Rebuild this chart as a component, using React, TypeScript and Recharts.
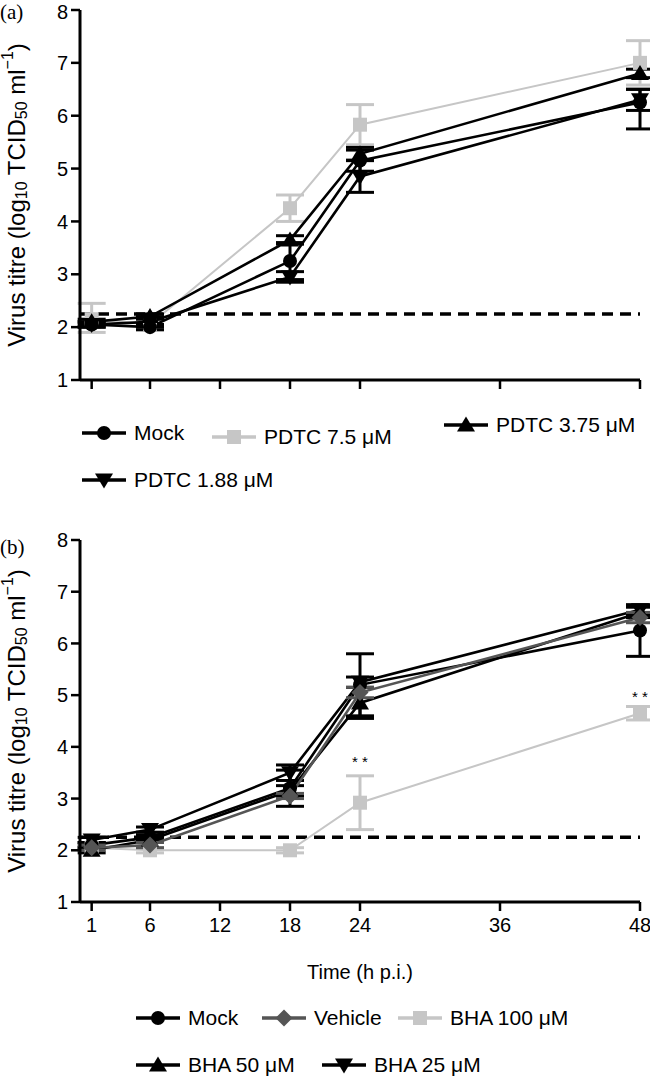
import React from 'react';
import { LineChart, Line, XAxis, YAxis, ErrorBar, ReferenceLine, ReferenceDot } from 'recharts';

const FONT = '"Liberation Sans", Arial, Helvetica, sans-serif';
const BLACK = '#000000';
const LIGHT = '#c6c6c6';
const DARK = '#555555';

const hours = [1, 6, 18, 24, 48];
const xTicks = [0, 1, 6, 12, 18, 24, 36, 48];
const yTicks = [1, 2, 3, 4, 5, 6, 7, 8];
const detectionLimit = 2.25;

// (a) PDTC
const aMock = [2.05, 2.0, 3.25, 5.15, 6.25];
const aMockErr = [0.05, 0.05, 0.35, 0.2, [0.5, 0.25]];
const aPdtc75 = [2.15, 2.05, 4.25, 5.83, 7.0];
const aPdtc75Err = [[0.25, 0.3], 0.1, 0.25, 0.38, 0.42];
const aPdtc375 = [2.1, 2.2, 3.65, 5.28, 6.8];
const aPdtc375Err = [0.05, 0.05, 0.08, 0.12, 0.08];
const aPdtc188 = [2.05, 2.1, 2.95, 4.85, 6.3];
const aPdtc188Err = [0.05, 0.1, 0.1, 0.3, 0.2];

// (b) BHA
const bMock = [2.1, 2.25, 3.2, 5.2, 6.25];
const bMockErr = [0.05, 0.05, 0.35, 0.6, [0.5, 0.3]];
const bVehicle = [2.05, 2.1, 3.05, 5.05, 6.5];
const bVehicleErr = [0.05, 0.05, 0.05, 0.1, 0.1];
const bBha100 = [2.05, 2.0, 2.0, 2.92, 4.65];
const bBha100Err = [0.05, 0.05, 0.05, 0.52, 0.13];
const bBha50 = [2.0, 2.2, 3.15, 4.85, 6.6];
const bBha50Err = [0.05, 0.05, 0.1, 0.3, 0.1];
const bBha25 = [2.2, 2.4, 3.5, 5.25, 6.65];
const bBha25Err = [0.05, 0.05, 0.15, 0.1, 0.1];

const sigHours = [24, 48];
const sigLevels = [3.72, 4.98];

const dataA = hours.map((t, i) => ({
  t,
  mock: aMock[i], mockErr: aMockErr[i],
  p75: aPdtc75[i], p75Err: aPdtc75Err[i],
  p375: aPdtc375[i], p375Err: aPdtc375Err[i],
  p188: aPdtc188[i], p188Err: aPdtc188Err[i],
}));

const dataB = hours.map((t, i) => ({
  t,
  mock: bMock[i], mockErr: bMockErr[i],
  veh: bVehicle[i], vehErr: bVehicleErr[i],
  b100: bBha100[i], b100Err: bBha100Err[i],
  b50: bBha50[i], b50Err: bBha50Err[i],
  b25: bBha25[i], b25Err: bBha25Err[i],
}));

type Shape = 'circle' | 'square' | 'up' | 'down' | 'diamond';

const seriesA = [
  { key: 'p75', name: 'PDTC 7.5 μM', color: LIGHT, shape: 'square' as Shape, width: 2 },
  { key: 'mock', name: 'Mock', color: BLACK, shape: 'circle' as Shape, width: 2.6 },
  { key: 'p375', name: 'PDTC 3.75 μM', color: BLACK, shape: 'up' as Shape, width: 2.6 },
  { key: 'p188', name: 'PDTC 1.88 μM', color: BLACK, shape: 'down' as Shape, width: 2.6 },
];

const seriesB = [
  { key: 'b100', name: 'BHA 100 μM', color: LIGHT, shape: 'square' as Shape, width: 2 },
  { key: 'mock', name: 'Mock', color: BLACK, shape: 'circle' as Shape, width: 2.6 },
  { key: 'b50', name: 'BHA 50 μM', color: BLACK, shape: 'up' as Shape, width: 2.6 },
  { key: 'b25', name: 'BHA 25 μM', color: BLACK, shape: 'down' as Shape, width: 2.6 },
  { key: 'veh', name: 'Vehicle', color: DARK, shape: 'diamond' as Shape, width: 2.6 },
];

function Marker({ cx, cy, shape, color }: { cx: number; cy: number; shape: Shape; color: string }) {
  if (cx == null || cy == null) return <g />;
  switch (shape) {
    case 'circle':
      return <circle cx={cx} cy={cy} r={7} fill={color} />;
    case 'square':
      return <rect x={cx - 7} y={cy - 7} width={14} height={14} fill={color} />;
    case 'up':
      return <polygon points={`${cx},${cy - 8.5} ${cx + 9},${cy + 6.5} ${cx - 9},${cy + 6.5}`} fill={color} />;
    case 'down':
      return <polygon points={`${cx},${cy + 8.5} ${cx + 9},${cy - 6.5} ${cx - 9},${cy - 6.5}`} fill={color} />;
    default:
      return <polygon points={`${cx},${cy - 8.5} ${cx + 8.5},${cy} ${cx},${cy + 8.5} ${cx - 8.5},${cy}`} fill={color} />;
  }
}

function YTitle({ viewBox }: any) {
  const cx = 16;
  const cy = viewBox.y + viewBox.height / 2;
  return (
    <text
      transform={`rotate(-90 ${cx} ${cy})`}
      x={cx}
      y={cy}
      textAnchor="middle"
      dominantBaseline="central"
      fontSize={24}
      fontFamily={FONT}
      fill="#000"
    >
      Virus titre (log<tspan dy={5} fontSize={16}>10</tspan>
      <tspan dy={-5}> TCID</tspan>
      <tspan dy={5} fontSize={16}>50</tspan>
      <tspan dy={-5}> ml</tspan>
      <tspan dy={-9} fontSize={16}>−1</tspan>
      <tspan dy={9}>)</tspan>
    </text>
  );
}

function XTick({ x, y, payload, show }: any) {
  if (!show || payload.value === 0) return <g />;
  return (
    <text x={x} y={y + 19} textAnchor="middle" fontSize={20} fontFamily={FONT} fill="#000">
      {payload.value}
    </text>
  );
}

function Panel({ data, series, height, marginTop, xHeight, showX, sig }: any) {
  return (
    <LineChart width={650} height={height} data={data} margin={{ top: marginTop, right: 10, left: 0, bottom: 0 }}>
      <XAxis
        dataKey="t"
        type="number"
        domain={[0, 48]}
        ticks={xTicks}
        height={xHeight}
        stroke="#000"
        strokeWidth={3}
        tickSize={9}
        tickLine={{ stroke: '#000', strokeWidth: 2.5 }}
        tick={(p: any) => <XTick {...p} show={showX} />}
        label={
          showX
            ? { value: 'Time (h p.i.)', position: 'insideBottom', offset: 8, fontSize: 20, fontFamily: FONT, fill: '#000' }
            : undefined
        }
      />
      <YAxis
        type="number"
        domain={[1, 8]}
        ticks={yTicks}
        width={80}
        stroke="#000"
        strokeWidth={3}
        tickSize={9}
        tickMargin={3}
        tickLine={{ stroke: '#000', strokeWidth: 2.5 }}
        tick={{ fontSize: 20, fontFamily: FONT, fill: '#000' }}
        label={{ content: (p: any) => <YTitle {...p} /> }}
      />
      <ReferenceLine y={detectionLimit} stroke="#000" strokeWidth={3.5} strokeDasharray="11 7" />
      {series.map((s: any) => (
        <Line
          key={s.key}
          dataKey={s.key}
          stroke={s.color}
          strokeWidth={s.width}
          isAnimationActive={false}
          dot={(p: any) => <Marker key={`${s.key}-${p.index}`} cx={p.cx} cy={p.cy} shape={s.shape} color={s.color} />}
          activeDot={false}
        >
          <ErrorBar dataKey={`${s.key}Err`} direction="y" width={14} strokeWidth={3} stroke={s.color} />
        </Line>
      ))}
      {sig &&
        sigHours.map((t, i) => (
          <ReferenceDot
            key={t}
            x={t}
            y={sigLevels[i]}
            r={0}
            stroke="none"
            label={{ value: '* *', position: 'center', fontSize: 15, fontFamily: FONT, fill: '#000' }}
          />
        ))}
    </LineChart>
  );
}

function LegendItem({ left, top, shape, color, label }: { left: number; top: number; shape: Shape; color: string; label: string }) {
  return (
    <div style={{ position: 'absolute', left, top, display: 'flex', alignItems: 'center', height: 24 }}>
      <svg width={44} height={24}>
        <line x1={0} x2={44} y1={12} y2={12} stroke={color} strokeWidth={3.5} />
        <Marker cx={22} cy={12} shape={shape} color={color} />
      </svg>
      <span style={{ marginLeft: 8, fontSize: 21, fontFamily: FONT, color: '#000', whiteSpace: 'nowrap' }}>{label}</span>
    </div>
  );
}

export default function App() {
  return (
    <div style={{ position: 'absolute', left: 0, top: 0, width: 650, height: 1087, background: '#fff', overflow: 'hidden' }}>
      <div style={{ position: 'absolute', left: 0, top: 0 }}>
        <Panel data={dataA} series={seriesA} height={400} marginTop={10} xHeight={20} showX={false} sig={false} />
      </div>
      <div style={{ position: 'absolute', left: 0, top: 520 }}>
        <Panel data={dataB} series={seriesB} height={467} marginTop={20} xHeight={85} showX={true} sig={true} />
      </div>
      <div style={{ position: 'absolute', left: 0, top: 0, fontSize: 21, fontFamily: '"Liberation Serif", serif' }}>(a)</div>
      <div style={{ position: 'absolute', left: 0, top: 535, fontSize: 21, fontFamily: '"Liberation Serif", serif' }}>(b)</div>

      <LegendItem left={82} top={421} shape="circle" color={BLACK} label="Mock" />
      <LegendItem left={212} top={425} shape="square" color={LIGHT} label="PDTC 7.5 μM" />
      <LegendItem left={444} top={413} shape="up" color={BLACK} label="PDTC 3.75 μM" />
      <LegendItem left={82} top={468} shape="down" color={BLACK} label="PDTC 1.88 μM" />

      <LegendItem left={136} top={1006} shape="circle" color={BLACK} label="Mock" />
      <LegendItem left={262} top={1006} shape="diamond" color={DARK} label="Vehicle" />
      <LegendItem left={398} top={1006} shape="square" color={LIGHT} label="BHA 100 μM" />
      <LegendItem left={136} top={1053} shape="up" color={BLACK} label="BHA 50 μM" />
      <LegendItem left={322} top={1053} shape="down" color={BLACK} label="BHA 25 μM" />
    </div>
  );
}
